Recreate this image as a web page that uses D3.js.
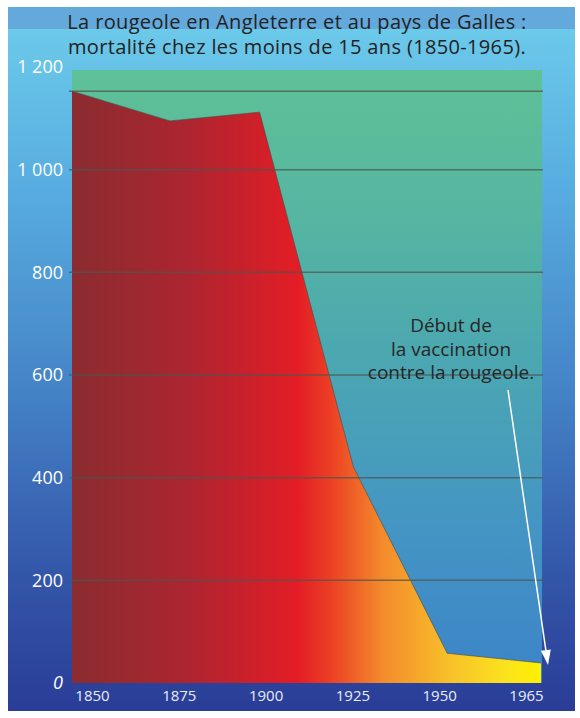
<!DOCTYPE html>
<html>
<head>
<meta charset="utf-8">
<script src="https://cdn.jsdelivr.net/npm/d3@7"></script>
<style>
  html, body { margin: 0; padding: 0; background: #ffffff; }
  svg { display: block; }
  text { font-family: "Open Sans", "Noto Sans", sans-serif; }
</style>
</head>
<body>
<div id="chart"></div>
<script>
// Measles deaths among children under 15, England and Wales
const years = [1850, 1874, 1896, 1919, 1942, 1965];
const deaths = [1153, 1095, 1112, 421, 58, 39];
const axisYears = ["1850", "1875", "1900", "1925", "1950", "1965"];
const yTickValues = [0, 200, 400, 600, 800, 1000, 1200];
const yTickLabels = ["0", "200", "400", "600", "800", "1 000", "1 200"];
const gridValues = [200, 400, 600, 800, 1000, 1153];
const titleLines = [
  "La rougeole en Angleterre et au pays de Galles :",
  "mortalité chez les moins de 15 ans (1850-1965)."
];
const noteLines = ["Début de", "la vaccination", "contre la rougeole."];
const vaccinationYear = 1965;
const vaccinationValue = 39;

const W = 580, H = 718;
const frame = { x: 8, y: 7, w: 567, h: 704 };
const plot = { left: 72, right: 542, top: 70, bottom: 683 };

const svg = d3.select("#chart").append("svg")
  .attr("width", W).attr("height", H);
const defs = svg.append("defs");

// backdrop: light sky blue fading to deep blue
const bg = defs.append("linearGradient").attr("id", "bg")
  .attr("x1", 0).attr("y1", 0).attr("x2", 0).attr("y2", 1);
[["0%", "#6ecdeb"], ["25%", "#58aee0"], ["55%", "#4482c6"], ["80%", "#3457aa"], ["100%", "#2a3d96"]]
  .forEach(([o, c]) => bg.append("stop").attr("offset", o).attr("stop-color", c));

// plot background: green at the top, blue at the bottom
const pg = defs.append("linearGradient").attr("id", "plotbg")
  .attr("x1", 0).attr("y1", 0).attr("x2", 0).attr("y2", 1);
[["0%", "#5fc197"], ["25%", "#55b5a2"], ["50%", "#4aa5b3"], ["75%", "#4495c4"], ["100%", "#3c84c8"]]
  .forEach(([o, c]) => pg.append("stop").attr("offset", o).attr("stop-color", c));

// area fill: dark red → red → orange → yellow along time
const ag = defs.append("linearGradient").attr("id", "areafill")
  .attr("gradientUnits", "userSpaceOnUse")
  .attr("x1", plot.left).attr("y1", 0).attr("x2", plot.right).attr("y2", 0);
[["0%", "#8a2c30"], ["25%", "#ad2530"], ["48%", "#e31d26"], ["55%", "#ec3f24"], ["66%", "#f38a2c"],
 ["80%", "#f8bf2a"], ["92%", "#fbe21e"], ["100%", "#fff000"]]
  .forEach(([o, c]) => ag.append("stop").attr("offset", o).attr("stop-color", c));

svg.append("rect")
  .attr("x", frame.x).attr("y", frame.y).attr("width", frame.w).attr("height", frame.h)
  .attr("fill", "url(#bg)");
svg.append("rect")
  .attr("x", frame.x).attr("y", frame.y).attr("width", frame.w).attr("height", 22)
  .attr("fill", "#63a9dc");

const x = d3.scaleLinear().domain([years[0], years[years.length - 1]]).range([plot.left, plot.right - 1]);
const y = d3.scaleLinear().domain([0, 1200]).range([plot.bottom, 67]);
const xAxisScale = d3.scalePoint().domain(axisYears).range([92, 526]);

svg.append("rect")
  .attr("x", plot.left).attr("y", plot.top)
  .attr("width", plot.right - plot.left).attr("height", plot.bottom - plot.top)
  .attr("fill", "url(#plotbg)");

const data = years.map((yr, i) => ({ year: yr, value: deaths[i] }));

const area = d3.area()
  .x(d => x(d.year))
  .y0(y(0))
  .y1(d => y(d.value));

svg.append("path")
  .datum(data)
  .attr("d", area)
  .attr("fill", "url(#areafill)");

svg.append("path")
  .datum(data)
  .attr("d", d3.line().x(d => x(d.year)).y(d => y(d.value)))
  .attr("fill", "none")
  .attr("stroke", "#4a4a44")
  .attr("stroke-opacity", 0.6)
  .attr("stroke-width", 1);

// horizontal rules laid over the whole plot
svg.append("g").selectAll("line")
  .data(gridValues).join("line")
  .attr("x1", plot.left - 3).attr("x2", plot.right + 1)
  .attr("y1", d => y(d)).attr("y2", d => y(d))
  .attr("stroke", "#4f5650").attr("stroke-opacity", 0.75).attr("stroke-width", 1.5);

// y labels
svg.append("g").selectAll("text")
  .data(yTickValues).join("text")
  .attr("x", 63)
  .attr("y", d => y(d))
  .attr("dy", "0.35em")
  .attr("text-anchor", "end")
  .attr("fill", "#ffffff")
  .attr("font-size", 18)
  .attr("font-style", d => d === 0 ? "italic" : "normal")
  .text((d, i) => yTickLabels[i]);

// x labels
const xAxis = svg.append("g")
  .attr("transform", `translate(0,${plot.bottom})`)
  .call(d3.axisBottom(xAxisScale).tickSize(0).tickPadding(7));
xAxis.select(".domain").remove();
xAxis.selectAll("text")
  .attr("fill", "#e8edf8")
  .attr("font-size", 15)
  .attr("font-family", "\"Open Sans\", sans-serif");

// title
svg.append("g").selectAll("text")
  .data(titleLines).join("text")
  .attr("x", 297)
  .attr("y", (d, i) => 29 + i * 25)
  .attr("text-anchor", "middle")
  .attr("fill", "#222222")
  .attr("font-size", 20)
  .attr("letter-spacing", 0.35)
  .text(d => d);

// vaccination note and arrow
svg.append("g").selectAll("text")
  .data(noteLines).join("text")
  .attr("x", 451)
  .attr("y", (d, i) => 332 + i * 23.5)
  .attr("text-anchor", "middle")
  .attr("fill", "#262626")
  .attr("font-size", 19)
  .text(d => d);

const tipX = x(vaccinationYear) + 7;
const tipY = y(vaccinationValue) + 2;
const startX = 508, startY = 390;
const ang = Math.atan2(tipY - startY, tipX - startX);
const headLen = 15, headHalf = 5;
const baseX = tipX - headLen * Math.cos(ang), baseY = tipY - headLen * Math.sin(ang);
svg.append("line")
  .attr("x1", startX).attr("y1", startY).attr("x2", baseX).attr("y2", baseY)
  .attr("stroke", "#ffffff").attr("stroke-width", 1.5);
svg.append("path")
  .attr("d", d3.line()([
    [tipX, tipY],
    [baseX + headHalf * Math.sin(ang), baseY - headHalf * Math.cos(ang)],
    [baseX - headHalf * Math.sin(ang), baseY + headHalf * Math.cos(ang)]
  ]) + "Z")
  .attr("fill", "#ffffff");
</script>
</body>
</html>
